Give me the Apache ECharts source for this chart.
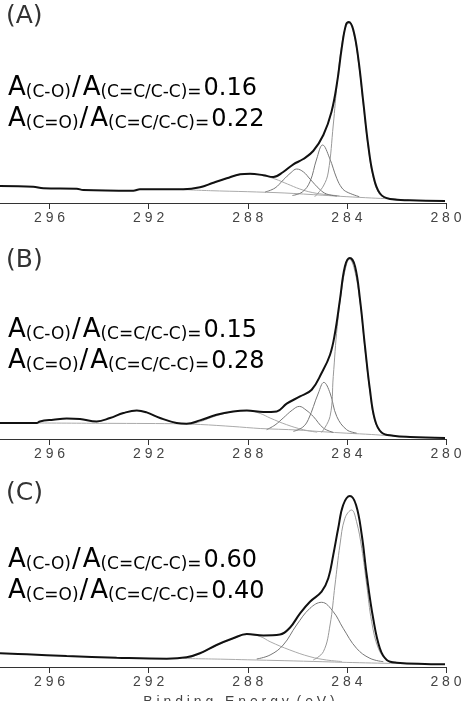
<!DOCTYPE html>
<html lang="en">
<head>
    <meta charset="UTF-8">
    <title>C1s XPS</title>
    <style>
        * { margin: 0; padding: 0; }
        body { background: #fff; }
        #myEcharts { width: 461px; height: 701px; }
    </style>
</head>
<body>
    <div id="myEcharts"></div>
    <script src="https://cdn.jsdelivr.net/npm/echarts@6/dist/echarts.min.js"></script>
    <script>
        // binding energy axis (eV), drawn reversed
        var beMin = 280, beMax = 298, beStep = 4;
        var tickValues = [280, 284, 288, 292, 296];

        // panel A  [binding energy, intensity]
        var aEnvelope = [[298, 17], [296.66, 16.3], [296.25, 14.7], [294.9, 14.3], [294.64, 13], [292.62, 12.3], [292.35, 13.7], [290.6, 13.7], [289.93, 15.7], [289.39, 20.3], [288.85, 24.7], [288.31, 28.7], [287.91, 29.3], [287.37, 27.8], [286.97, 26], [286.57, 31], [286.16, 38.7], [285.76, 44], [285.36, 52], [284.95, 68], [284.62, 91.3], [284.39, 121.3], [284.21, 154.7], [284.04, 178], [283.92, 181], [283.74, 173], [283.54, 144.7], [283.34, 101.3], [283.14, 58], [282.94, 28], [282.67, 9.7], [282.26, 4], [281.45, 2.7], [280.04, 2]];
        var aBackground = [[290.8, 13.6], [289.5, 12.3], [288, 11.3], [286.5, 10], [285, 7.8], [284, 6.3], [283, 5], [282.3, 4.2], [281.5, 3]];
        var aPeak1 = [[290.6, 13.6], [289.9, 15.7], [289.4, 20], [288.85, 24.5], [288.3, 28.4], [287.9, 29], [287.4, 27.5], [286.9, 24], [286.4, 19], [285.9, 14], [285.4, 10.5], [284.8, 8.3], [284.3, 7.2]];
        var aPeak2 = [[287.3, 11], [286.9, 15], [286.57, 23], [286.25, 30.5], [286.03, 34], [285.75, 31], [285.49, 24], [285.09, 13.5], [284.82, 9], [284.4, 7]];
        var aPeak3 = [[286.2, 7.5], [285.8, 11], [285.49, 21.3], [285.22, 44], [284.98, 58], [284.7, 45], [284.41, 24.7], [284.2, 15], [284.0, 11], [283.5, 6.3]];
        var aPeak4 = [[285.3, 6.2], [284.95, 17], [284.75, 31], [284.55, 78], [284.39, 121], [284.21, 158], [284.05, 176], [283.92, 180], [283.74, 171], [283.54, 142], [283.34, 99], [283.14, 56], [282.94, 26], [282.7, 9.5], [282.4, 5.2], [282.0, 4]];

        // panel B
        var bEnvelope = [[298, 16], [296.52, 16], [296.39, 17.6], [295.85, 19.3], [295.31, 20.6], [294.77, 20], [294.1, 17.6], [293.56, 21], [293.02, 26], [292.48, 28.6], [292.08, 26.6], [291.54, 21], [290.87, 16], [290.47, 15.3], [289.93, 18.6], [289.26, 24.3], [288.59, 27.6], [288.04, 28.6], [287.37, 27], [286.83, 27.6], [286.43, 35.3], [285.89, 42.6], [285.42, 49.3], [285.02, 66], [284.68, 84.3], [284.48, 106], [284.28, 139.3], [284.08, 172.6], [283.88, 181], [283.67, 172.6], [283.47, 139.3], [283.27, 92.6], [283.07, 49.3], [282.87, 19.3], [282.6, 6.6], [282.13, 3.3], [281.45, 2], [280.04, 1]];
        var bBackground = [[296.5, 16], [294, 15.7], [291, 15.3], [289.9, 14.5], [288.6, 12.5], [287.5, 10.5], [286, 9], [285, 7.3], [284, 5.8], [283, 4.5], [282.3, 3.3], [281.5, 2.2]];
        var bPeak1 = [[290.3, 14.8], [289.9, 17.5], [289.3, 23], [288.6, 27.2], [288.0, 28.4], [287.5, 25.5], [287.1, 21], [286.43, 14.3], [285.76, 9.3], [285.2, 6.8]];
        var bPeak2 = [[287.24, 9.3], [286.9, 14], [286.57, 21], [286.2, 29], [285.92, 32.6], [285.65, 29], [285.36, 22.6], [284.95, 11], [284.55, 6.6]];
        var bPeak3 = [[286.16, 7.6], [285.8, 11.5], [285.56, 19.3], [285.15, 46], [284.93, 56.6], [284.68, 46], [284.41, 22.6], [284.01, 9.3], [283.61, 6]];
        var bPeak4 = [[285.02, 6.6], [284.68, 22.6], [284.55, 62.6], [284.39, 112.6], [284.17, 156], [284.0, 176], [283.9, 180], [283.7, 170], [283.47, 137], [283.27, 90], [283.07, 47], [282.87, 18], [282.6, 6], [282.3, 3.5]];

        // panel C
        var cEnvelope = [[298, 13.7], [296.92, 12.7], [295.31, 11], [293.29, 9.3], [291.27, 8.3], [290.47, 9.7], [289.93, 13.7], [289.26, 22], [288.59, 28.7], [288.04, 33], [287.37, 31.6], [286.7, 32.5], [286.3, 39.3], [285.89, 53.7], [285.49, 65.3], [285.02, 75.3], [284.75, 88.7], [284.55, 112], [284.35, 138.7], [284.15, 162], [283.88, 171], [283.63, 162], [283.4, 132], [283.2, 92], [282.94, 48.7], [282.67, 18.7], [282.39, 7], [281.99, 4.3], [280.04, 2.7]];
        var cBackground = [[290.6, 8.5], [289, 7.8], [288, 7.2], [286.5, 6.3], [285, 5.3], [284, 4.6], [283, 4], [282, 3.5], [281, 3]];
        var cPeak1 = [[290.4, 8.7], [289.93, 13.5], [289.26, 21.5], [288.59, 28.3], [288.0, 32.5], [287.5, 30.5], [287.1, 25.3], [286.3, 17], [285.49, 10.3], [284.82, 7], [284.2, 5.5]];
        var cPeak2 = [[287.64, 8], [287.1, 12], [286.57, 22], [286.03, 42], [285.49, 58.7], [285.02, 64.7], [284.55, 55.3], [284.15, 38.7], [283.61, 18.7], [283.07, 8.7], [282.53, 5.3]];
        var cPeak3 = [[285.36, 7], [284.95, 15.3], [284.68, 42], [284.48, 82], [284.28, 122], [284.08, 148.7], [283.81, 157], [283.61, 145.3], [283.4, 118.7], [283.2, 82], [283.0, 45.3], [282.73, 18.7], [282.39, 7], [281.99, 4.3]];

        var panelNames = ['(A)', '(B)', '(C)'];
        var ratioCO = ['0.16', '0.15', '0.60'];
        var ratioCdO = ['0.22', '0.28', '0.40'];

        var panels = [
            { top: 3, env: aEnvelope, bg: aBackground, peaks: [aPeak1, aPeak2, aPeak3, aPeak4], colors: ['#aaa', '#777', '#777', '#999'] },
            { top: 239, env: bEnvelope, bg: bBackground, peaks: [bPeak1, bPeak2, bPeak3, bPeak4], colors: ['#aaa', '#777', '#777', '#999'] },
            { top: 467, env: cEnvelope, bg: cBackground, peaks: [cPeak1, cPeak2, cPeak3], colors: ['#aaa', '#777', '#999'] }
        ];
        var labelTop = [4, 248, 481];
        var noteTop = [75, 317, 547];

        var myEcharts = echarts.init(document.getElementById('myEcharts'));

        var grid = [], xAxis = [], yAxis = [], series = [], graphic = [];
        var rich = {
            a: { fontSize: 26, fontFamily: 'DejaVu Sans', color: '#222', lineHeight: 26, verticalAlign: 'bottom' },
            sl: { fontSize: 26, fontFamily: 'DejaVu Sans', color: '#222', lineHeight: 26, verticalAlign: 'bottom', padding: [0, 2, 0, 1] },
            s: { fontSize: 17, fontFamily: 'DejaVu Sans', color: '#444', lineHeight: 17, verticalAlign: 'bottom' },
            n: { fontSize: 24, fontFamily: 'DejaVu Sans', color: '#111', lineHeight: 24, verticalAlign: 'bottom', padding: [0, 0, 0, 2] }
        };

        panels.forEach(function (p, i) {
            grid.push({ left: 0, right: 15, top: p.top, height: 200, outerBoundsMode: 'none', containLabel: false });
            xAxis.push({
                gridIndex: i,
                type: 'value',
                min: beMin,
                max: beMax,
                interval: beStep,
                inverse: true,
                splitLine: { show: false },
                axisLine: { lineStyle: { color: '#333', width: 1 } },
                axisTick: { length: 6, customValues: tickValues, lineStyle: { color: '#333' } },
                axisLabel: {
                    customValues: tickValues,
                    margin: 8,
                    fontSize: 14,
                    fontFamily: 'Liberation Sans',
                    color: '#444',
                    formatter: function (v) { return String(v).split('').join(' '); }
                },
                name: i === 2 ? 'B i n d i n g   E n e r g y  ( e V )' : '',
                nameLocation: 'middle',
                nameGap: 28,
                nameTextStyle: { fontSize: 14, fontFamily: 'Liberation Sans', color: '#444', padding: [0, 0, 0, 32] }
            });
            yAxis.push({ gridIndex: i, type: 'value', min: 0, max: 200, show: false });

            series.push({
                type: 'line', xAxisIndex: i, yAxisIndex: i, data: p.bg,
                smooth: 0.3, showSymbol: false, silent: true,
                lineStyle: { color: '#aaa', width: 1 }
            });
            p.peaks.forEach(function (pk, k) {
                series.push({
                    type: 'line', xAxisIndex: i, yAxisIndex: i, data: pk,
                    smooth: 0.4, showSymbol: false, silent: true,
                    lineStyle: { color: p.colors[k], width: 1 }
                });
            });
            series.push({
                type: 'line', xAxisIndex: i, yAxisIndex: i, data: p.env,
                smooth: 0.4, showSymbol: false, silent: true, z: 5,
                lineStyle: { color: '#111', width: 2 }
            });

            graphic.push({
                type: 'text', left: 6, top: labelTop[i],
                style: { text: panelNames[i], fontSize: 25, fontFamily: 'DejaVu Sans', fill: '#333' }
            });
            graphic.push({
                type: 'text', left: 8, top: noteTop[i],
                style: { text: '{a|A}{s|(C-O)}{sl|/}{a|A}{s|(C=C/C-C)=}{n|' + ratioCO[i] + '}', rich: rich }
            });
            graphic.push({
                type: 'text', left: 8, top: noteTop[i] + 31,
                style: { text: '{a|A}{s|(C=O)}{sl|/}{a|A}{s|(C=C/C-C)=}{n|' + ratioCdO[i] + '}', rich: rich }
            });
        });

        myEcharts.setOption({
            animation: false,
            grid: grid,
            xAxis: xAxis,
            yAxis: yAxis,
            series: series,
            graphic: graphic
        });
    </script>
</body>
</html>
